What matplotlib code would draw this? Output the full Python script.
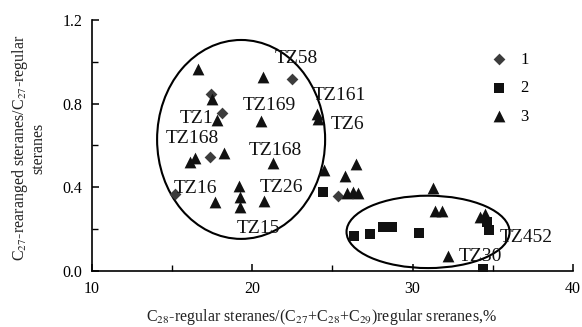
import matplotlib
matplotlib.use('Agg')
import matplotlib.pyplot as plt
from matplotlib.patches import Ellipse
from matplotlib.ticker import MultipleLocator

plt.rcParams['font.family'] = ['Liberation Serif', 'DejaVu Serif']
plt.rcParams['mathtext.fontset'] = 'stix'

# Series 1 (diamonds)
s1_x = [22.48, 17.45, 18.11, 17.33, 15.18, 25.36]
s1_y = [0.920, 0.845, 0.754, 0.547, 0.368, 0.360]
# Series 2 (squares)
s2_x = [24.39, 26.31, 27.34, 28.18, 28.71, 30.38, 34.62, 34.78, 34.37]
s2_y = [0.377, 0.168, 0.176, 0.208, 0.208, 0.182, 0.233, 0.197, 0.008]
# Series 3 (triangles)
s3_x = [16.63, 20.65, 17.47, 24.04, 24.07, 17.80, 20.54, 16.11, 16.43, 18.25,
        21.27, 17.70, 19.18, 19.23, 19.26, 20.71, 24.50, 25.78, 26.47, 25.91,
        26.28, 26.59, 31.29, 31.37, 31.82, 34.20, 34.49, 32.21]
s3_y = [0.968, 0.928, 0.821, 0.752, 0.725, 0.720, 0.715, 0.523, 0.540, 0.566,
        0.514, 0.328, 0.408, 0.355, 0.307, 0.336, 0.483, 0.456, 0.511, 0.372,
        0.379, 0.372, 0.398, 0.286, 0.286, 0.259, 0.274, 0.072]

series_labels = ['1', '2', '3']

# Sample labels
sample_names = ['TZ58', 'TZ169', 'TZ161', 'TZ6', 'TZ1', 'TZ168', 'TZ168',
                'TZ16', 'TZ26', 'TZ15', 'TZ452', 'TZ30']
sample_x = [22.73, 21.04, 25.41, 25.91, 16.55, 16.24, 21.42, 16.43, 21.79,
            20.36, 37.07, 34.20]
sample_y = [1.018, 0.792, 0.840, 0.701, 0.730, 0.634, 0.576, 0.394, 0.398,
            0.202, 0.158, 0.067]

# Group ellipses (center x, center y, width, height)
ell_cx = [19.30, 30.96]
ell_cy = [0.629, 0.187]
ell_w = [10.48, 10.17]
ell_h = [0.951, 0.346]

W, H = 582, 327
fig = plt.figure(figsize=(W / 100, H / 100), dpi=100)
ax = fig.add_axes([92 / W, 1 - 271 / H, (573 - 92) / W, (271 - 20) / H])
ax.set_xlim(10, 40)
ax.set_ylim(0, 1.2)

for cx, cy, w, h in zip(ell_cx, ell_cy, ell_w, ell_h):
    ax.add_patch(Ellipse((cx, cy), w, h, fill=False, edgecolor='black',
                         linewidth=1.5, zorder=1))

h1 = ax.scatter(s1_x, s1_y, marker='D', s=36, c='#3c3c3c', linewidths=0, zorder=3,
                label=series_labels[0])
h2 = ax.scatter(s2_x, s2_y, marker='s', s=50, c='#111111', linewidths=0, zorder=3,
                label=series_labels[1])
h3 = ax.scatter(s3_x, s3_y, marker='^', s=72, c='#111111', linewidths=0, zorder=3,
                label=series_labels[2])

for name, tx, ty in zip(sample_names, sample_x, sample_y):
    ax.text(tx, ty, name, fontsize=14, ha='center', va='center', color='#111111',
            zorder=4)

ax.spines['top'].set_visible(False)
ax.spines['right'].set_visible(False)
for sp in ['left', 'bottom']:
    ax.spines[sp].set_linewidth(1.2)

ax.set_xticks([10, 20, 30, 40])
ax.xaxis.set_minor_locator(MultipleLocator(5))
ax.set_yticks([0.0, 0.4, 0.8, 1.2])
ax.yaxis.set_minor_locator(MultipleLocator(0.2))
ax.set_yticklabels(['0.0', '0.4', '0.8', '1.2'])
ax.tick_params(which='major', direction='in', length=5, width=1.1, labelsize=11.5,
               pad=7)
ax.tick_params(which='minor', direction='in', length=4, width=1.0)

leg = ax.legend(handles=[h1, h2, h3], loc='upper left', frameon=False,
                bbox_to_anchor=(480 / W, 1 - 45 / H), bbox_transform=fig.transFigure,
                fontsize=12, handletextpad=0.5, labelspacing=0.75, scatterpoints=1,
                handlelength=1.5, borderaxespad=0)

fig.text(322 / W, 1 - 317 / H,
         r'C$_{28}$-regular steranes/(C$_{27}$+C$_{28}$+C$_{29}$)regular sreranes,%',
         ha='center', va='center', fontsize=11.5, color='#222222')
fig.text(28 / W, 1 - 148 / H,
         'C$_{27}$-rearanged steranes/C$_{27}$-regular\nsteranes',
         ha='center', va='center', rotation=90, fontsize=11.5, color='#222222',
         multialignment='center', linespacing=1.0)

fig.savefig('out.png', dpi=100)
